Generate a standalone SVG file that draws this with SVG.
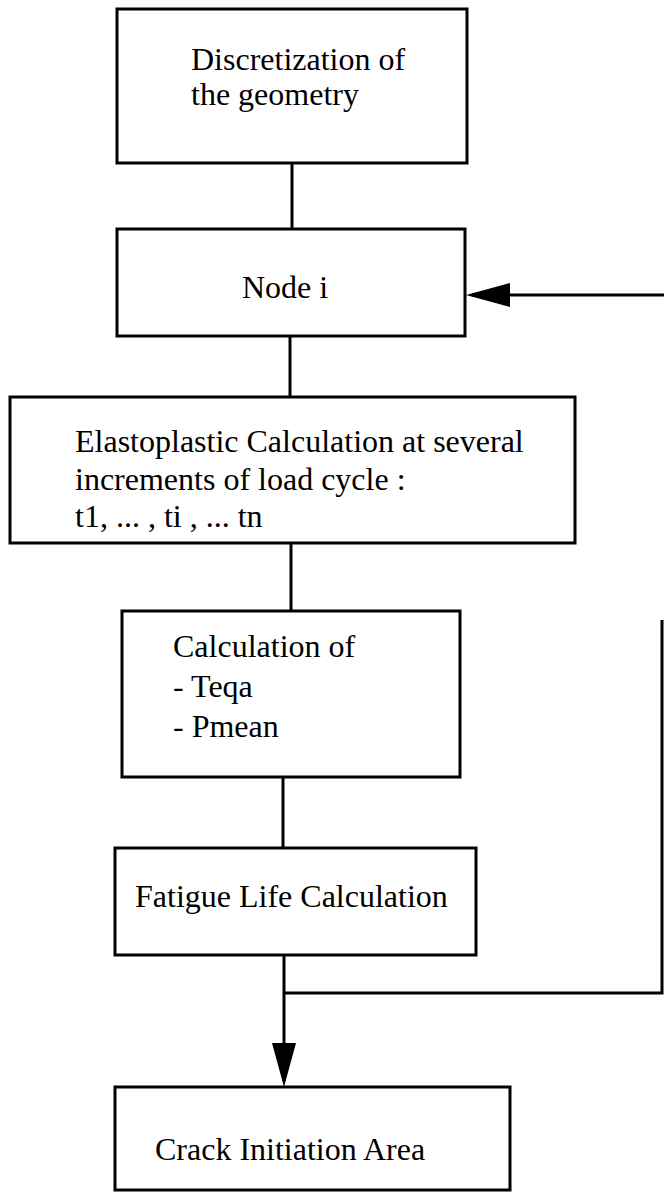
<svg xmlns="http://www.w3.org/2000/svg" width="664" height="1200" viewBox="0 0 664 1200">
<style>
.box{fill:#fff;stroke:#000;stroke-width:3}
.lbl{font-family:"Liberation Serif","Times New Roman",serif;font-size:32px;fill:#000}
.con{fill:none;stroke:#000;stroke-width:3}
</style>
<defs>
<marker id="ah" markerUnits="userSpaceOnUse" viewBox="0 0 44 24" markerWidth="44" markerHeight="24" refX="38" refY="12" orient="auto">
<path d="M0,0 L44,12 L0,24 Z" fill="#000"/>
</marker>
</defs>
<rect width="664" height="1200" fill="#fff"/>
<g id="connectors">
<line class="con" x1="292" y1="163" x2="292" y2="229"/>
<line class="con" x1="290" y1="336" x2="290" y2="397"/>
<line class="con" x1="291" y1="543" x2="291" y2="611"/>
<line class="con" x1="283" y1="777" x2="283" y2="848"/>
<line class="con" x1="284" y1="955" x2="284" y2="1081" marker-end="url(#ah)"/>
<polyline class="con" points="284,993 662,993 662,620"/>
<line class="con" x1="664" y1="295" x2="472" y2="295" marker-end="url(#ah)"/>
</g>
<g id="n1">
<rect class="box" x="117" y="9" width="350" height="154"/>
<text class="lbl" x="191" y="70">Discretization of</text>
<text class="lbl" x="191" y="105">the geometry</text>
</g>
<g id="n2">
<rect class="box" x="117" y="229" width="348" height="107"/>
<text class="lbl" x="242" y="298">Node i</text>
</g>
<g id="n3">
<rect class="box" x="10" y="397" width="565" height="146"/>
<text class="lbl" x="75" y="452">Elastoplastic Calculation at several</text>
<text class="lbl" x="75" y="490">increments of load cycle :</text>
<text class="lbl" x="75" y="527">t1, ... , ti , ... tn</text>
</g>
<g id="n4">
<rect class="box" x="122" y="611" width="338" height="166"/>
<text class="lbl" x="173" y="657">Calculation of</text>
<text class="lbl" x="173" y="697">- Teqa</text>
<text class="lbl" x="173" y="737">- Pmean</text>
</g>
<g id="n5">
<rect class="box" x="115" y="848" width="361" height="107"/>
<text class="lbl" x="135" y="907">Fatigue Life Calculation</text>
</g>
<g id="n6">
<rect class="box" x="115" y="1087" width="395" height="103"/>
<text class="lbl" x="155" y="1160">Crack Initiation Area</text>
</g>
</svg>
